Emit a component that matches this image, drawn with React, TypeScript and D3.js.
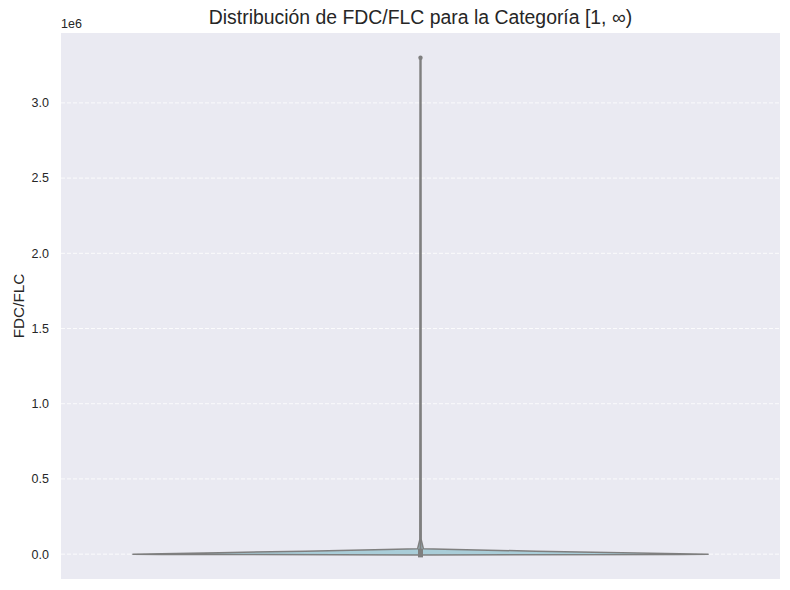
import React, { useEffect, useRef } from "react";
import * as d3 from "d3";

// y ticks of the value axis (scaled by 1e6)
const yTicks = [0, 0.5e6, 1.0e6, 1.5e6, 2.0e6, 2.5e6, 3.0e6];

// violin outline: value and relative density
const kdeValues = [-0.005e6, -0.002e6, 0, 0.005e6, 0.01e6, 0.02e6, 0.03e6, 0.036e6, 0.1e6, 1.0e6, 2.0e6, 3.3e6];
const kdeDensity = [0, 0.9, 1, 0.85, 0.7, 0.4, 0.12, 0.01, 0.002, 0.001, 0.001, 0];

// inner box stats
const dataMin = 0;
const dataMax = 3.3e6;
const q1 = -0.005e6;
const q3 = 0.02e6;

const W = 790;
const H = 590;

export default function App() {
  const svgRef = useRef<SVGSVGElement>(null);

  useEffect(() => {
    if (!svgRef.current) return;
    const svg = d3.select(svgRef.current);
    svg.selectAll("*").remove();

    const margin = { top: 33, right: 10, bottom: 11, left: 61 };
    const x = d3.scaleLinear().domain([-0.5, 0.5]).range([margin.left, W - margin.right]);
    const y = d3.scaleLinear().domain([-0.1653e6, 3.4647e6]).range([H - margin.bottom, margin.top]);

    // background
    svg.append("rect")
      .attr("x", margin.left).attr("y", margin.top)
      .attr("width", W - margin.left - margin.right)
      .attr("height", H - margin.top - margin.bottom)
      .attr("fill", "#eaeaf2");

    // grid
    svg.append("g")
      .selectAll("line")
      .data(yTicks)
      .join("line")
      .attr("x1", margin.left).attr("x2", W - margin.right)
      .attr("y1", d => y(d)).attr("y2", d => y(d))
      .attr("stroke", "#ffffff").attr("stroke-width", 1)
      .attr("stroke-opacity", 0.8)
      .attr("stroke-dasharray", "4,2");

    // y axis labels
    svg.append("g")
      .selectAll("text")
      .data(yTicks)
      .join("text")
      .attr("x", 49).attr("y", d => y(d))
      .attr("dy", "0.35em")
      .attr("text-anchor", "end")
      .attr("font-size", "12.5px")
      .attr("fill", "#262626")
      .text(d => (d / 1e6).toFixed(1));

    svg.append("text")
      .attr("x", margin.left).attr("y", 28)
      .attr("font-size", "12.5px").attr("fill", "#262626")
      .text("1e6");

    // violin
    const maxD = d3.max(kdeDensity)!;
    const halfW = 0.4 * (x(0.5) - x(-0.5));
    const pts = kdeValues.map((v, i) => ({ v, d: kdeDensity[i] / maxD }));
    const area = d3.area<{ v: number; d: number }>()
      .y(p => y(p.v))
      .x0(p => x(0) - p.d * halfW)
      .x1(p => x(0) + p.d * halfW)
      .curve(d3.curveLinear);

    svg.append("path")
      .datum(pts)
      .attr("d", area)
      .attr("fill", "#a9cdd8")
      .attr("stroke", "#7f7f7f")
      .attr("stroke-width", 1.5)
      .attr("stroke-linejoin", "round");

    // whisker
    svg.append("line")
      .attr("x1", x(0)).attr("x2", x(0))
      .attr("y1", y(dataMin)).attr("y2", y(dataMax))
      .attr("stroke", "#7f7f7f").attr("stroke-width", 2.2)
      .attr("stroke-linecap", "round");
    svg.append("circle")
      .attr("cx", x(0)).attr("cy", y(dataMax)).attr("r", 2.2)
      .attr("fill", "#7f7f7f");

    // box
    svg.append("line")
      .attr("x1", x(0)).attr("x2", x(0))
      .attr("y1", y(q1)).attr("y2", y(q3))
      .attr("stroke", "#7f7f7f").attr("stroke-width", 5)
      .attr("stroke-linecap", "square");

    // title
    svg.append("text")
      .attr("x", (x(-0.5) + x(0.5)) / 2).attr("y", 24)
      .attr("text-anchor", "middle")
      .attr("font-size", "19.4px").attr("fill", "#262626")
      .text("Distribución de FDC/FLC para la Categoría [1, ∞)");

    // y label
    svg.append("text")
      .attr("transform", `translate(24,${(margin.top + H - margin.bottom) / 2}) rotate(-90)`)
      .attr("text-anchor", "middle")
      .attr("font-size", "15.3px").attr("fill", "#262626")
      .text("FDC/FLC");
  }, []);

  return (
    <svg
      ref={svgRef}
      width={W}
      height={H}
      style={{ position: "absolute", left: 0, top: 0, fontFamily: "'Liberation Sans', Arial, sans-serif", background: "#fff" }}
    />
  );
}
